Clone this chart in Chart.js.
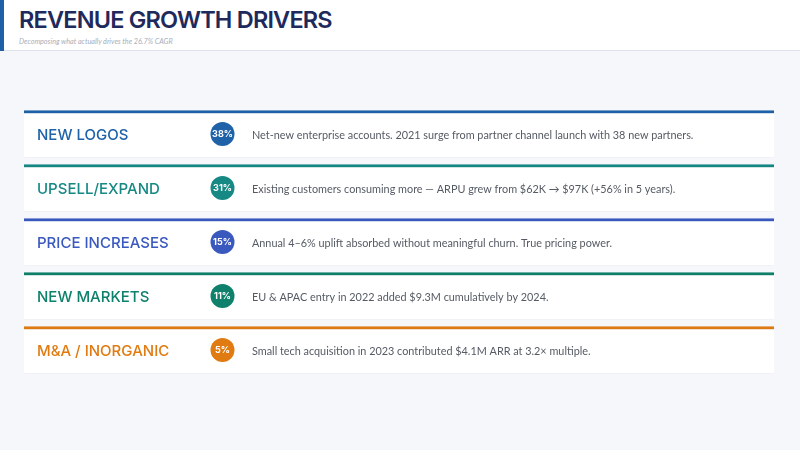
<!DOCTYPE html>
<html>
<head>
<meta charset="utf-8">
<script src="https://cdn.jsdelivr.net/npm/chart.js@4.4.1/dist/chart.umd.min.js"></script>
<style>
  html, body { margin: 0; padding: 0; width: 800px; height: 450px; overflow: hidden; background: #f6f7fb; }
  #header { position: absolute; left: 0; top: 0; width: 800px; height: 50px; background: #ffffff; border-bottom: 1px solid #dfe3ec; }
  #bar { position: absolute; left: 0; top: 0; width: 4px; height: 51px; background: #1f5fa8; }
  #title { position: absolute; left: 19px; top: 5px; font-family: Inter, "Noto Sans", sans-serif; font-weight: 600; font-size: 23.5px; color: #1f2a5c; letter-spacing: -0.8px; white-space: nowrap; }
  #subtitle { position: absolute; left: 19px; top: 37px; font-family: Lato, "Open Sans", sans-serif; font-style: italic; font-size: 7.2px; color: #a7aebb; white-space: nowrap; }
  #c { position: absolute; left: 0; top: 0; }
</style>
</head>
<body>
<div id="header"><div id="bar"></div>
  <div id="title">REVENUE GROWTH DRIVERS</div>
  <div id="subtitle">Decomposing what actually drives the 26.7% CAGR</div>
</div>
<canvas id="c" width="800" height="450"></canvas>
<script>
// ---- data ----
const drivers = ['NEW LOGOS', 'UPSELL/EXPAND', 'PRICE INCREASES', 'NEW MARKETS', 'M&A / INORGANIC'];
const shares = [38, 31, 15, 11, 5];
const notes = [
  'Net-new enterprise accounts. 2021 surge from partner channel launch with 38 new partners.',
  'Existing customers consuming more \u2014 ARPU grew from $62K \u2192 $97K (+56% in 5 years).',
  'Annual 4\u20136% uplift absorbed without meaningful churn. True pricing power.',
  'EU & APAC entry in 2022 added $9.3M cumulatively by 2024.',
  'Small tech acquisition in 2023 contributed $4.1M ARR at 3.2\u00d7 multiple.'
];
const colors = ['#1f62a8', '#168985', '#3a59bf', '#0f806b', '#e07b12'];

// ---- layout (in x-scale units = card pixels) ----
const X_MAX = 750, LABEL_X = 13, BADGE_X = 198.5, NOTE_X = 228;

const shadowPlugin = {
  id: 'cardShadow',
  beforeDatasetDraw(chart, args) {
    if (args.index === 0) {
      const ctx = chart.ctx;
      ctx.save();
      ctx.shadowColor = 'rgba(20,30,60,0.16)';
      ctx.shadowBlur = 3;
      ctx.shadowOffsetY = 1;
    }
  },
  afterDatasetDraw(chart, args) {
    if (args.index === 0) chart.ctx.restore();
  }
};

const textPlugin = {
  id: 'cardText',
  afterDatasetsDraw(chart) {
    const ctx = chart.ctx;
    const xs = chart.scales.x, ys = chart.scales.y;
    const badgeMeta = chart.getDatasetMeta(1);
    ctx.save();
    ctx.textBaseline = 'middle';
    drivers.forEach((d, i) => {
      const y = ys.getPixelForValue(i) + 1.5;
      ctx.textAlign = 'left';
      ctx.fillStyle = colors[i];
      ctx.font = '500 15px Inter, "Noto Sans", sans-serif';
      ctx.fillText(d, xs.getPixelForValue(LABEL_X), y);
      ctx.fillStyle = '#555a63';
      ctx.font = '10.85px Lato, "Open Sans", sans-serif';
      ctx.fillText(notes[i], xs.getPixelForValue(NOTE_X), y);
      const pt = badgeMeta.data[i];
      ctx.textAlign = 'center';
      ctx.fillStyle = '#ffffff';
      ctx.font = 'bold 9px Inter, sans-serif';
      ctx.fillText(shares[i] + '%', pt.x, pt.y + 0.5);
    });
    ctx.restore();
  }
};

new Chart(document.getElementById('c'), {
  type: 'bar',
  data: {
    labels: drivers,
    datasets: [
      {
        type: 'bar',
        data: drivers.map(() => [0, X_MAX]),
        backgroundColor: '#ffffff',
        borderColor: colors,
        borderWidth: { top: 3, right: 0, bottom: 0, left: 0 },
        borderSkipped: false,
        barThickness: 47,
        order: 2
      },
      {
        type: 'scatter',
        data: shares.map((s, i) => ({ x: BADGE_X, y: i })),
        pointRadius: 12,
        pointBackgroundColor: colors,
        pointBorderWidth: 0,
        order: 1
      }
    ]
  },
  options: {
    responsive: false,
    animation: false,
    devicePixelRatio: 1,
    events: [],
    indexAxis: 'y',
    layout: { padding: { left: 24, right: 26, top: 107, bottom: 73 } },
    scales: {
      x: { type: 'linear', min: 0, max: X_MAX, display: false },
      y: { type: 'category', display: false, offset: true }
    },
    plugins: { legend: { display: false }, tooltip: { enabled: false }, title: { display: false } }
  },
  plugins: [shadowPlugin, textPlugin]
});
</script>
</body>
</html>
